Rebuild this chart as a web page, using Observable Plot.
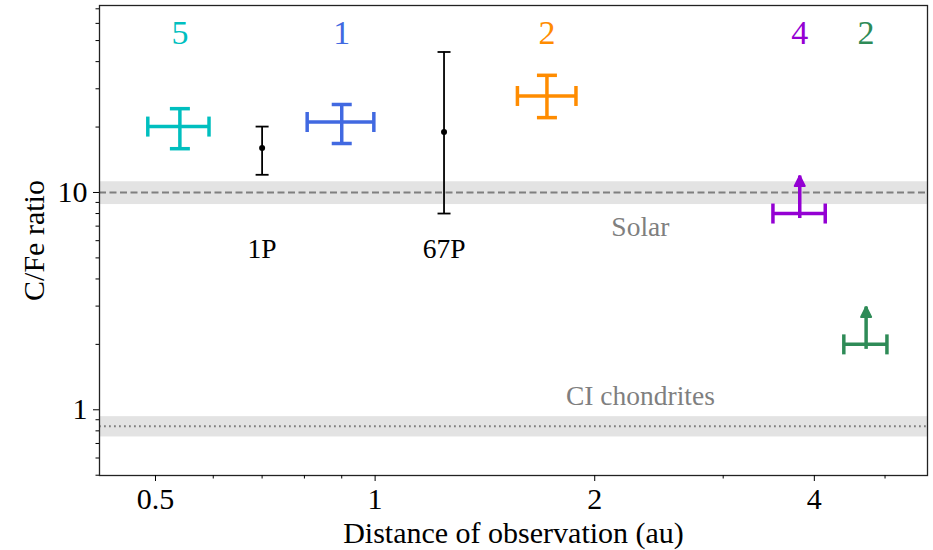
<!DOCTYPE html>
<html><head><meta charset="utf-8">
<script src="https://cdn.jsdelivr.net/npm/d3@7"></script>
<script src="https://cdn.jsdelivr.net/npm/@observablehq/plot@0.6"></script>
<style>
body{margin:0;background:#fff}
</style>
</head><body><div id="chart"></div>
<script>
// Groups of comets (coloured points with error bars)
const groupCounts = ["5", "1", "2", "4", "2"];
const groupColors = ["#00bfbf", "#4169e1", "#ff8c00", "#9400d3", "#2e8b57"];
const groupX = [0.54, 0.90, 1.72, 3.82, 4.71];
const groupXLow = [0.488, 0.807, 1.567, 3.51, 4.39];
const groupXHigh = [0.592, 0.996, 1.885, 4.14, 5.03];
const groupY = [20.1, 21.1, 27.8, 8.0, 2.0];
const groupYLow = [15.9, 16.8, 22.1, null, null];
const groupYHigh = [24.3, 25.4, 34.6, 11.9, 2.97];
const groupLowerLimit = [false, false, false, true, true];

// Individual comets (black)
const cometNames = ["1P", "67P"];
const cometX = [0.70, 1.243];
const cometY = [16, 19];
const cometYLow = [12.06, 8.0];
const cometYHigh = [20.1, 44.3];
const cometLabelY = [5.5, 5.5];

// Reference values
const refNames = ["Solar", "CI chondrites"];
const refValue = [10, 0.84];
const refLow = [8.8, 0.75];
const refHigh = [11.2, 0.93];
const refLabelX = [2.31, 2.31];

// Ticks
const xTicks = [0.5, 1, 2, 4];
const xMinorTicks = [0.6, 0.7, 0.8, 0.9, 3, 5];
const yTicks = [1, 10];
const yMinorTicks = [0.5, 0.6, 0.7, 0.8, 0.9, 2, 3, 4, 5, 6, 7, 8, 9, 20, 30, 40, 50, 60, 70];

const groups = groupX.map((x, i) => ({
  x, xlo: groupXLow[i], xhi: groupXHigh[i], y: groupY[i],
  ylo: groupYLow[i], yhi: groupYHigh[i], limit: groupLowerLimit[i],
  count: groupCounts[i], color: groupColors[i]
}));
const bounded = groups.filter(d => !d.limit);
const limits = groups.filter(d => d.limit);
const comets = cometNames.map((name, i) => ({
  name, x: cometX[i], y: cometY[i], ylo: cometYLow[i], yhi: cometYHigh[i], ly: cometLabelY[i]
}));
const refs = refNames.map((name, i) => ({
  name, v: refValue[i], lo: refLow[i], hi: refHigh[i], lx: refLabelX[i]
}));

const vCap = {draw(ctx, size) { const r = Math.sqrt(size / Math.PI); ctx.moveTo(0, -r); ctx.lineTo(0, r); }};
const hCap = {draw(ctx, size) { const r = Math.sqrt(size / Math.PI); ctx.moveTo(-r, 0); ctx.lineTo(r, 0); }};
const head = {draw(ctx, size) { const r = Math.sqrt(size / Math.PI); ctx.moveTo(0, 0); ctx.lineTo(-r * 0.5, r); ctx.lineTo(r * 0.5, r); ctx.closePath(); }};

const font = "'Liberation Serif', serif";

const chart = Plot.plot({
  width: 933,
  height: 550,
  marginLeft: 99,
  marginRight: 6,
  marginTop: 5,
  marginBottom: 75,
  style: {fontSize: "30px", color: "#000", background: "#fff"},
  x: {type: "log", domain: [0.419, 5.717]},
  y: {type: "log", domain: [0.4985, 72.5]},
  marks: [
    Plot.rect(refs, {y1: "lo", y2: "hi", fill: "#e3e3e3"}),
    Plot.ruleY(refs.slice(0, 1), {y: "v", stroke: "#7f7f7f", strokeWidth: 2, strokeDasharray: "7,3.5"}),
    Plot.ruleY(refs.slice(1), {y: "v", stroke: "#7f7f7f", strokeWidth: 1.8, strokeDasharray: "1.8,3.2"}),
    Plot.text(refs.slice(0, 1), {x: "lx", y: "v", dy: 35, text: "name", fill: "#7f7f7f", fontSize: 27.5, fontFamily: font}),
    Plot.text(refs.slice(1), {x: "lx", y: "v", dy: -30, text: "name", fill: "#7f7f7f", fontSize: 27.5, fontFamily: font}),

    // comets
    Plot.ruleX(comets, {x: "x", y1: "ylo", y2: "yhi", stroke: "#000", strokeWidth: 1.8}),
    Plot.dot(comets, {x: "x", y: "ylo", symbol: hCap, r: 6.5, stroke: "#000", strokeWidth: 1.8, fill: "none"}),
    Plot.dot(comets, {x: "x", y: "yhi", symbol: hCap, r: 6.5, stroke: "#000", strokeWidth: 1.8, fill: "none"}),
    Plot.dot(comets, {x: "x", y: "y", r: 3, fill: "#000", stroke: "none"}),
    Plot.text(comets, {x: "x", y: "ly", text: "name", fill: "#000", fontSize: 27.5, fontFamily: font}),

    // groups
    Plot.ruleY(groups, {y: "y", x1: "xlo", x2: "xhi", stroke: "color", strokeWidth: 3.5}),
    Plot.dot(groups, {x: "xlo", y: "y", symbol: vCap, r: 10, stroke: "color", strokeWidth: 3.5, fill: "none"}),
    Plot.dot(groups, {x: "xhi", y: "y", symbol: vCap, r: 10, stroke: "color", strokeWidth: 3.5, fill: "none"}),
    Plot.ruleX(bounded, {x: "x", y1: "ylo", y2: "yhi", stroke: "color", strokeWidth: 3.5}),
    Plot.dot(bounded, {x: "x", y: "ylo", symbol: hCap, r: 10, stroke: "color", strokeWidth: 3.5, fill: "none"}),
    Plot.dot(bounded, {x: "x", y: "yhi", symbol: hCap, r: 10, stroke: "color", strokeWidth: 3.5, fill: "none"}),
    Plot.ruleX(limits, {x: "x", y1: "y", y2: "yhi", stroke: "color", strokeWidth: 3.5, insetTop: 5}),
    Plot.dot(limits, {x: "x", y: "yhi", symbol: head, r: 10, fill: "color", stroke: "color", strokeWidth: 2, strokeLinejoin: "round"}),
    Plot.text(groups, {x: "x", frameAnchor: "top", lineAnchor: "middle", dy: 28, text: "count", fill: "color", fontSize: 34, fontFamily: font}),

    // axes
    Plot.frame({stroke: "#222", strokeWidth: 1.3}),
    Plot.axisX(xTicks, {tickSize: 6, tickPadding: 6, tickFormat: d => String(d), fontSize: 30, fontFamily: font,
      label: "Distance of observation (au)", labelAnchor: "center", labelOffset: 67, labelArrow: "none"}),
    Plot.axisX(xMinorTicks, {tickSize: 3.5, tickFormat: null, text: null, label: null}),
    Plot.axisY(yTicks, {tickSize: 6, tickPadding: 6, tickFormat: d => String(d), fontSize: 30, fontFamily: font,
      label: "C/Fe ratio", labelAnchor: "center", labelOffset: 77, labelArrow: "none"}),
    Plot.axisY(yMinorTicks, {tickSize: 3.5, tickFormat: null, text: null, label: null})
  ]
});
chart.querySelectorAll("text").forEach(t => t.style.setProperty("font-family", "'Liberation Serif', serif", "important"));
document.getElementById("chart").appendChild(chart);
</script>
</body></html>
